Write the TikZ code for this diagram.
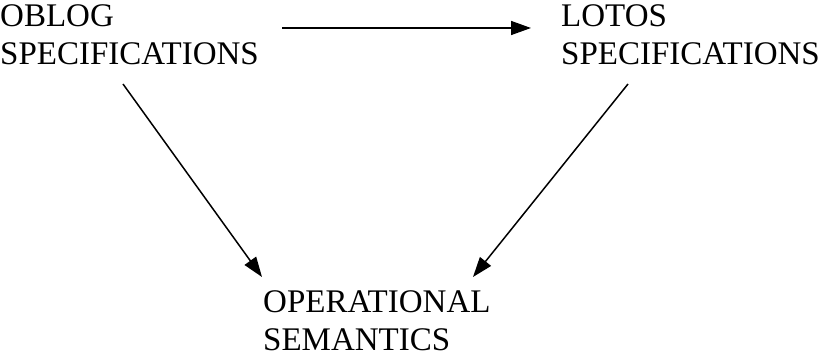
\documentclass[tikz,border=0pt]{standalone}
\usepackage{fontspec}
\setmainfont{Liberation Serif}
\usetikzlibrary{arrows.meta}
\begin{document}
\begin{tikzpicture}[x=1pt,y=-1pt,
  label/.style={anchor=base west,inner sep=0pt,align=left,
    font=\fontsize{33}{38}\selectfont},
  link/.style={line width=1.5pt,-{Triangle[length=20pt,width=14pt]}}]
\useasboundingbox (0,0) rectangle (824,358);
% anchors sit on the baseline of each label's second line
\node[label] (oblog) at (0,65) {OBLOG\\SPECIFICATIONS};
\node[label] (lotos) at (561,65) {LOTOS\\SPECIFICATIONS};
\node[label] (opsem) at (263,350) {OPERATIONAL\\SEMANTICS};
% free ends of the connectors
\coordinate (oblogR) at (282,28);
\coordinate (lotosL) at (531,28);
\coordinate (oblogB) at (123,84);
\coordinate (lotosB) at (628,84);
\coordinate (opsemL) at (262,277);
\coordinate (opsemR) at (473,277);
\draw[link] (oblogR) -- (lotosL);
\draw[link] (oblogB) -- (opsemL);
\draw[link] (lotosB) -- (opsemR);
\end{tikzpicture}
\end{document}
